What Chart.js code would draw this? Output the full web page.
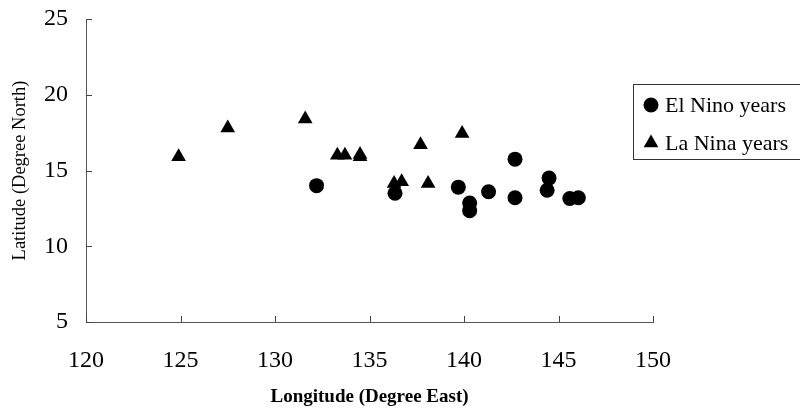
<!DOCTYPE html>
<html>
<head>
<meta charset="utf-8">
<script src="https://cdn.jsdelivr.net/npm/chart.js@4/dist/chart.umd.min.js"></script>
<style>
  html, body { margin: 0; padding: 0; background: #fff; }
  #wrap { width: 800px; height: 409px; }
</style>
</head>
<body>
<div id="wrap"><canvas id="c" width="800" height="409"></canvas></div>
<script>
// ---- data ----
const elNinoLon = [132.2, 136.35, 139.7, 140.3, 140.3, 141.3, 142.7, 142.7, 144.5, 144.4, 145.6, 146.05];
const elNinoLat = [14.0, 13.5, 13.9, 12.85, 12.35, 13.6, 15.75, 13.2, 14.5, 13.7, 13.15, 13.2];
const laNinaLon = [124.9, 127.5, 131.6, 133.3, 133.7, 134.5, 134.5, 136.3, 136.7, 137.7, 138.1, 139.9];
const laNinaLat = [15.9, 17.8, 18.4, 16.0, 16.0, 16.05, 15.9, 14.15, 14.25, 16.7, 14.15, 17.45];
const seriesNames = ['El Nino years', 'La Nina years'];
const xTicks = [120, 125, 130, 135, 140, 145, 150];
const yTicks = [5, 10, 15, 20, 25];
const xTitle = 'Longitude (Degree East)';
const yTitle = 'Latitude (Degree North)';

function pts(xs, ys) { return xs.map((x, i) => ({ x: x, y: ys[i] })); }

const SERIF = "'Liberation Serif', 'Times New Roman', serif";
Chart.defaults.font.family = SERIF;
Chart.defaults.color = '#000';

const innerTicks = {
  id: 'innerTicks',
  afterDraw(chart) {
    const ctx = chart.ctx;
    const xs = chart.scales.x, ys = chart.scales.y;
    ctx.save();
    ctx.strokeStyle = '#444';
    ctx.lineWidth = 1;
    ctx.beginPath();
    xTicks.forEach(v => {
      const px = Math.round(xs.getPixelForValue(v)) + 0.5;
      ctx.moveTo(px, ys.bottom);
      ctx.lineTo(px, ys.bottom - 6);
    });
    yTicks.forEach(v => {
      const py = Math.round(ys.getPixelForValue(v)) + 0.5;
      ctx.moveTo(xs.left, py);
      ctx.lineTo(xs.left + 6, py);
    });
    ctx.stroke();
    ctx.restore();
  }
};

const boxLegend = {
  id: 'boxLegend',
  afterDraw(chart) {
    const ctx = chart.ctx;
    ctx.save();
    ctx.fillStyle = '#fff';
    ctx.fillRect(633.5, 84.5, 180, 75);
    ctx.strokeStyle = '#333';
    ctx.lineWidth = 1;
    ctx.strokeRect(633.5, 84.5, 180, 75);
    const rows = [105, 143];
    chart.data.datasets.forEach((ds, i) => {
      const y = rows[i];
      const opts = { pointStyle: ds.pointStyle, radius: ds.pointRadius, borderWidth: 0, rotation: 0 };
      ctx.fillStyle = '#000';
      ctx.strokeStyle = '#000';
      if (Chart.helpers && Chart.helpers.drawPoint) {
        Chart.helpers.drawPoint(ctx, opts, 651, y);
      }
      ctx.fillStyle = '#000';
      ctx.font = '22px ' + SERIF;
      ctx.textBaseline = 'alphabetic';
      ctx.textAlign = 'left';
      ctx.fillText(ds.label, 665, y + 7);
    });
    ctx.restore();
  }
};

new Chart(document.getElementById('c'), {
  type: 'scatter',
  data: {
    datasets: [
      {
        label: seriesNames[0],
        data: pts(elNinoLon, elNinoLat),
        pointStyle: 'circle',
        pointRadius: 7.5,
        pointBackgroundColor: '#000',
        pointBorderColor: '#000',
        pointBorderWidth: 0
      },
      {
        label: seriesNames[1],
        data: pts(laNinaLon, laNinaLat),
        pointStyle: 'triangle',
        pointRadius: 8.5,
        pointBackgroundColor: '#000',
        pointBorderColor: '#000',
        pointBorderWidth: 0
      }
    ]
  },
  options: {
    responsive: false,
    animation: false,
    devicePixelRatio: 1,
    layout: { padding: { top: 19, right: 147, bottom: 0, left: 0 } },
    plugins: { legend: { display: false }, tooltip: { enabled: false } },
    scales: {
      x: {
        type: 'linear',
        min: 120, max: 150,
        afterBuildTicks(scale) { scale.ticks = xTicks.map(v => ({ value: v })); },
        afterFit(scale) { scale.height = 87; scale.paddingLeft = 0; scale.paddingRight = 0; },
        grid: { display: false, drawTicks: false },
        border: { display: true, color: '#555', width: 1 },
        ticks: { color: '#000', font: { family: SERIF, size: 24 }, padding: 24, maxRotation: 0 },
        title: { display: true, text: xTitle, color: '#000', font: { family: SERIF, size: 19, weight: 'bold' }, padding: { top: 0, bottom: 1 } }
      },
      y: {
        type: 'linear',
        min: 5, max: 25,
        afterBuildTicks(scale) { scale.ticks = yTicks.map(v => ({ value: v })); },
        afterFit(scale) { scale.width = 86; scale.paddingTop = 0; scale.paddingBottom = 0; },
        grid: { display: false, drawTicks: false },
        border: { display: true, color: '#555', width: 1 },
        ticks: { color: '#000', font: { family: SERIF, size: 24 }, padding: 18 },
        title: { display: true, text: yTitle, color: '#000', font: { family: SERIF, size: 18.5 }, padding: { top: 9, bottom: 0 } }
      }
    }
  },
  plugins: [innerTicks, boxLegend]
});
</script>
</body>
</html>
